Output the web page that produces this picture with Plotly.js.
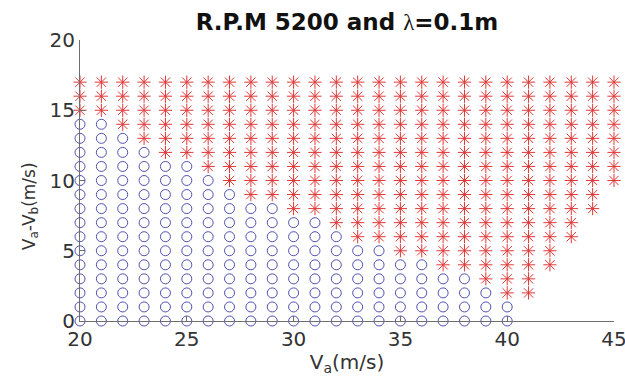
<!DOCTYPE html>
<html>
<head>
<meta charset="utf-8">
<script src="https://cdn.plot.ly/plotly-3.0.1.min.js"></script>
<style>
  html, body { margin: 0; padding: 0; background: #fff; }
  #chart { width: 625px; height: 382px; }
</style>
</head>
<body>
<div id="chart"></div>
<script>
// Air speed V_a (m/s) at each test column
const va = [20, 21, 22, 23, 24, 25, 26, 27, 28, 29, 30, 31, 32,
            33, 34, 35, 36, 37, 38, 39, 40, 41, 42, 43, 44, 45];
// Highest stable V_a-V_b (circles) per column, null where none
const stableTop = [14, 14, 13, 12, 11, 11, 10, 9, 8, 8, 7, 7, 6,
                   5, 5, 4, 4, 3, 3, 2, 1, null, null, null, null, null];
// Unstable range (stars) per column: lowest and highest V_a-V_b
const unstableBottom = [15, 15, 14, 13, 12, 12, 11, 10, 9, 9, 8, 8, 7,
                        6, 6, 5, 5, 4, 4, 3, 2, 2, 4, 6, 8, 10];
const unstableTop = [17, 17, 17, 17, 17, 17, 17, 17, 17, 17, 17, 17, 17,
                     17, 17, 17, 17, 17, 17, 17, 17, 17, 17, 17, 17, 17];

const stableX = [], stableY = [], unstableX = [], unstableY = [];
va.forEach((v, i) => {
  if (stableTop[i] !== null) {
    for (let d = 0; d <= stableTop[i]; d++) { stableX.push(v); stableY.push(d); }
  }
  for (let d = unstableBottom[i]; d <= unstableTop[i]; d++) { unstableX.push(v); unstableY.push(d); }
});

const FONT = 'DejaVu Sans, Verdana, sans-serif';

const traces = [
  {
    x: stableX, y: stableY, type: 'scatter', mode: 'markers', cliponaxis: false,
    marker: { symbol: 'circle-open', size: 10, color: 'rgb(80,80,180)', line: { width: 1, color: 'rgb(80,80,180)' } },
    hoverinfo: 'x+y'
  },
  {
    x: unstableX, y: unstableY, type: 'scatter', mode: 'markers', cliponaxis: false,
    marker: { symbol: 'asterisk-open', size: 11, color: 'rgb(225,55,55)', line: { width: 1, color: 'rgb(225,55,55)' } },
    hoverinfo: 'x+y'
  }
];

const axisCommon = {
  showgrid: false, zeroline: false, showline: true, linecolor: '#6e6e6e', linewidth: 1,
  ticks: 'inside', ticklen: 5, tickcolor: '#6e6e6e', mirror: false,
  ticklabeloverflow: 'allow',
  tickfont: { family: FONT, size: 20, color: '#333' }
};

const layout = {
  width: 625, height: 382,
  margin: { l: 80, r: 11, t: 40, b: 61 },
  paper_bgcolor: '#fff', plot_bgcolor: '#fff',
  showlegend: false,
  font: { family: FONT, color: '#222' },
  title: {
    text: '<b>R.P.M 5200 and <span style="font-family:Liberation Serif;font-weight:normal">λ</span>=0.1m</b>',
    font: { family: FONT, size: 23, color: '#111' },
    x: 0.5, xanchor: 'center', xref: 'paper',
    y: 0.942, yanchor: 'middle', yref: 'container'
  },
  xaxis: Object.assign({}, axisCommon, {
    range: [20, 45], tickvals: [20, 25, 30, 35, 40, 45],
    title: { text: 'V<sub>a</sub>(m/s)', font: { family: FONT, size: 20, color: '#333' }, standoff: 4 }
  }),
  yaxis: Object.assign({}, axisCommon, {
    range: [0, 20], tickvals: [0, 5, 10, 15, 20]
  }),
  // y-axis caption placed as a rotated annotation
  annotations: [{
    text: 'V<sub>a</sub>-V<sub>b</sub>(m/s)',
    textangle: -90, showarrow: false,
    xref: 'paper', yref: 'paper', x: -0.093, y: 0.41,
    xanchor: 'center', yanchor: 'middle',
    font: { family: FONT, size: 17, color: '#333' }
  }]
};

Plotly.newPlot('chart', traces, layout, { displayModeBar: false, staticPlot: true });
</script>
</body>
</html>
